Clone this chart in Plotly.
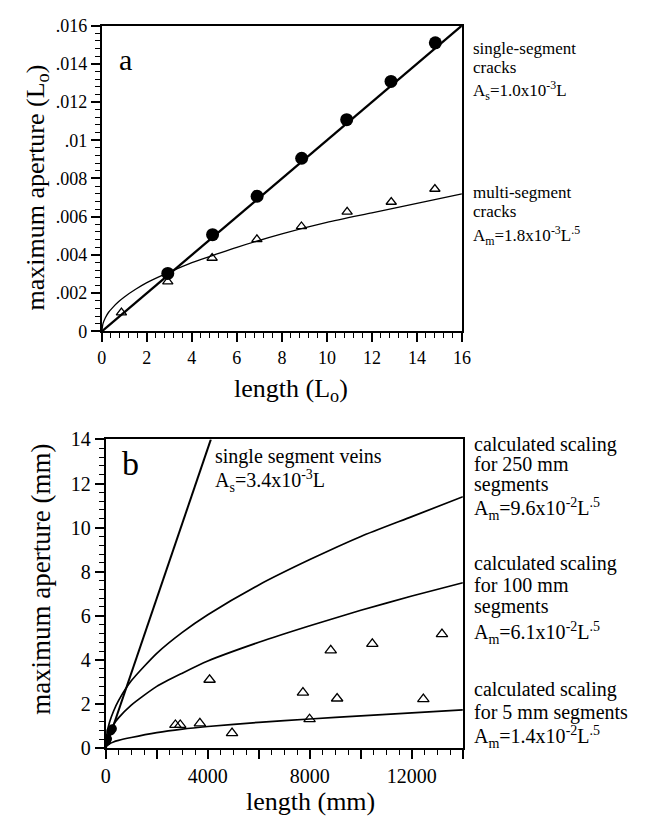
import plotly.graph_objects as go

# ---------------- Panel a data (normalised units) ----------------
a_single_len = [2.93, 4.92, 6.9, 8.88, 10.88, 12.85, 14.82]
a_single_ap = [0.00303, 0.00506, 0.00707, 0.00906, 0.01108, 0.01308, 0.0151]
a_multi_len = [0.87, 2.93, 4.9, 6.89, 8.87, 10.9, 12.86, 14.8]
a_multi_ap = [0.00098, 0.0026, 0.00384, 0.00481, 0.00549, 0.00625, 0.00677, 0.00745]
a_single_fit_len = [0, 16]
a_single_fit_ap = [0, 0.016]
a_multi_fit_len = [0, 0.05, 0.15, 0.3, 0.5, 0.75, 1, 1.5, 2, 3, 4, 5, 6, 8, 10, 12, 14, 16]
a_multi_fit_ap = [0, 0.0004, 0.0007, 0.001, 0.00127, 0.00156, 0.0018, 0.0022, 0.00255,
                  0.0031, 0.0036, 0.004, 0.0044, 0.0051, 0.0057, 0.0062, 0.0067, 0.0072]
a_xtickvals = [0, 2, 4, 6, 8, 10, 12, 14, 16]
a_xticktext = ["0", "2", "4", "6", "8", "10", "12", "14", "16"]
a_ytickvals = [0, 0.002, 0.004, 0.006, 0.008, 0.01, 0.012, 0.014, 0.016]
a_yticktext = ["0", ".002", ".004", ".006", ".008", ".01", ".012", ".014", ".016"]

# ---------------- Panel b data (mm) ----------------
b_single_len = [30, 70, 200, 260]
b_single_ap = [0.3, 0.42, 0.78, 0.88]
b_multi_len = [2730, 2920, 3690, 4070, 4950, 7730, 7990, 8820, 9070, 10450, 12450, 13180]
b_multi_ap = [1.05, 1.05, 1.12, 3.1, 0.68, 2.52, 1.31, 4.43, 2.25, 4.73, 2.22, 5.17]
b_single_fit_len = [0, 4120]
b_single_fit_ap = [0, 14]
b_curve_len = [0, 50, 150, 300, 500, 1000, 2000, 3000, 4000, 6000, 8000, 10000, 12000, 14000]
b_250_ap = [0, 0.68, 1.18, 1.66, 2.15, 3.05, 4.3, 5.25, 6.05, 7.4, 8.55, 9.6, 10.5, 11.4]
b_100_ap = [0, 0.43, 0.75, 1.06, 1.37, 1.95, 2.8, 3.4, 3.95, 4.8, 5.55, 6.25, 6.9, 7.5]
b_5_ap = [0.05, 0.12, 0.2, 0.28, 0.35, 0.48, 0.7, 0.86, 0.98, 1.17, 1.32, 1.46, 1.6, 1.73]
b_xtickvals = [0, 2000, 4000, 6000, 8000, 10000, 12000, 14000]
b_xticktext = ["0", "", "4000", "", "8000", "", "12000", ""]
b_ytickvals = [0, 2, 4, 6, 8, 10, 12, 14]
b_yticktext = ["0", "2", "4", "6", "8", "10", "12", "14"]

W, H = 647, 837
FONT = "Liberation Serif, Times New Roman, Times, DejaVu Serif, serif"


def px(x):
    return x / W


def py(y):
    return 1 - y / H


fig = go.Figure()

# panel a
fig.add_trace(go.Scatter(x=a_single_fit_len, y=a_single_fit_ap, mode="lines",
                         line=dict(color="black", width=2.3), xaxis="x", yaxis="y",
                         showlegend=False, hoverinfo="skip"))
fig.add_trace(go.Scatter(x=a_multi_fit_len, y=a_multi_fit_ap, mode="lines",
                         line=dict(color="black", width=1.3, shape="spline", smoothing=0.6),
                         xaxis="x", yaxis="y", showlegend=False, hoverinfo="skip"))
fig.add_trace(go.Scatter(x=a_single_len, y=a_single_ap, mode="markers",
                         marker=dict(symbol="circle", size=13, color="black"),
                         xaxis="x", yaxis="y", showlegend=False))
fig.add_trace(go.Scatter(x=a_multi_len, y=a_multi_ap, mode="markers",
                         marker=dict(symbol="triangle-up-open", size=9, color="black",
                                     line=dict(color="black", width=1.3)),
                         xaxis="x", yaxis="y", showlegend=False))

# panel b
fig.add_trace(go.Scatter(x=b_single_fit_len, y=b_single_fit_ap, mode="lines",
                         line=dict(color="black", width=2), xaxis="x2", yaxis="y2",
                         showlegend=False, hoverinfo="skip"))
for ap in (b_250_ap, b_100_ap, b_5_ap):
    fig.add_trace(go.Scatter(x=b_curve_len, y=ap, mode="lines",
                             line=dict(color="black", width=1.7, shape="spline", smoothing=0.6),
                             xaxis="x2", yaxis="y2", showlegend=False, hoverinfo="skip"))
fig.add_trace(go.Scatter(x=b_single_len, y=b_single_ap, mode="markers",
                         marker=dict(symbol="circle", size=9, color="black"),
                         xaxis="x2", yaxis="y2", showlegend=False))
fig.add_trace(go.Scatter(x=b_multi_len, y=b_multi_ap, mode="markers",
                         marker=dict(symbol="triangle-up-open", size=10, color="black",
                                     line=dict(color="black", width=1.3)),
                         xaxis="x2", yaxis="y2", showlegend=False))


def axis_common(fs):
    return dict(showline=True, linecolor="black", linewidth=2, mirror=True,
                ticks="outside", ticklen=9, tickwidth=1.5, tickcolor="black",
                showgrid=False, zeroline=False,
                tickfont=dict(family=FONT, size=fs, color="black"))


fig.update_layout(
    width=W, height=H, margin=dict(l=0, r=0, t=0, b=0),
    paper_bgcolor="white", plot_bgcolor="white",
    font=dict(family=FONT, color="black"),
    xaxis=dict(domain=[px(99), px(467)], range=[0, 16], anchor="y",
               tickmode="array", tickvals=a_xtickvals, ticktext=a_xticktext,
               minor=dict(ticks="outside", ticklen=5, tickwidth=1, tickcolor="black",
                          dtick=0.4, tick0=0, showgrid=False),
               **axis_common(18)),
    yaxis=dict(domain=[py(329), py(15)], range=[0, 0.016], anchor="x",
               tickmode="array", tickvals=a_ytickvals, ticktext=a_yticktext,
               minor=dict(ticks="outside", ticklen=5, tickwidth=1, tickcolor="black",
                          dtick=0.0004, tick0=0, showgrid=False),
               **axis_common(18)),
    xaxis2=dict(domain=[px(103), px(468)], range=[0, 14000], anchor="y2",
                tickmode="array", tickvals=b_xtickvals, ticktext=b_xticktext,
                minor=dict(ticks="outside", ticklen=5, tickwidth=1, tickcolor="black",
                           dtick=500, tick0=0, showgrid=False),
                **axis_common(20)),
    yaxis2=dict(domain=[py(757), py(440)], range=[0, 14], anchor="x2",
                tickmode="array", tickvals=b_ytickvals, ticktext=b_yticktext,
                minor=dict(ticks="outside", ticklen=5, tickwidth=1, tickcolor="black",
                           dtick=0.4, tick0=0, showgrid=False),
                **axis_common(20)),
)

annos = []


def txt(text, x, y, size, xanchor="left", angle=0):
    annos.append(dict(text=text, x=px(x), y=py(y), xref="paper", yref="paper",
                      xanchor=xanchor, yanchor="middle", showarrow=False, textangle=angle,
                      font=dict(family=FONT, size=size, color="black")))


# axis titles
txt("maximum aperture (L<sub>o</sub>)", 33, 181, 26, xanchor="center", angle=-90)
txt("length (L<sub>o</sub>)", 292, 389, 26, xanchor="center")
txt("maximum aperture (mm)", 36, 584, 27, xanchor="center", angle=-90)
txt("length (mm)", 312, 812, 26, xanchor="center")

# panel labels
txt("a", 123, 50, 30, xanchor="center")
txt("b", 128, 465, 34, xanchor="center")

# panel a annotations
for t, y in [("single-segment", 38), ("cracks", 58), ("A<sub>s</sub>=1.0x10<sup>-3</sup>L", 82),
             ("multi-segment", 186), ("cracks", 206), ("A<sub>m</sub>=1.8x10<sup>-3</sup>L<sup>.5</sup>", 231)]:
    txt(t, 476, y, 17)

# panel b annotations
txt("single segment veins", 213, 458, 20)
txt("A<sub>s</sub>=3.4x10<sup>-3</sup>L", 213, 483, 20)
for t, y in [("calculated scaling", 445), ("for 250 mm", 465), ("segments", 486),
             ("A<sub>m</sub>=9.6x10<sup>-2</sup>L<sup>.5</sup>", 511),
             ("calculated scaling", 567), ("for 100 mm", 590), ("segments", 612),
             ("A<sub>m</sub>=6.1x10<sup>-2</sup>L<sup>.5</sup>", 639),
             ("calculated scaling", 697), ("for 5 mm segments", 720),
             ("A<sub>m</sub>=1.4x10<sup>-2</sup>L<sup>.5</sup>", 746)]:
    txt(t, 477, y, 20)

fig.update_layout(annotations=annos)
fig.write_html("out.html")
